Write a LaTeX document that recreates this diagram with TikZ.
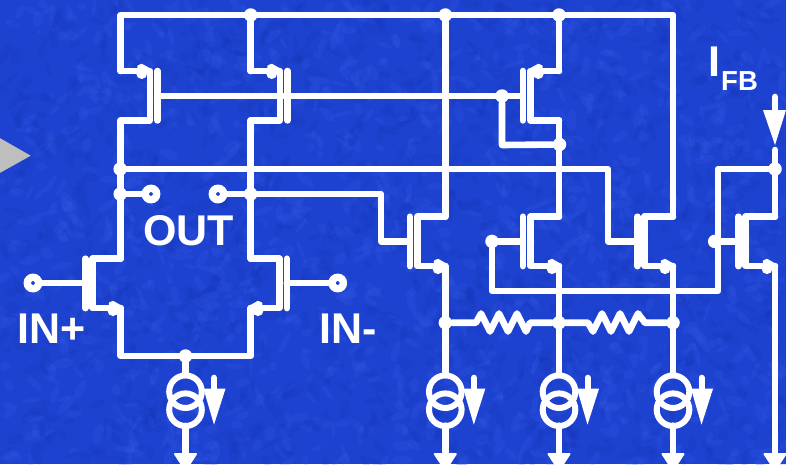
\documentclass[tikz,border=0pt]{standalone}
\usepackage{fontspec}
\setmainfont{Liberation Sans}
\definecolor{bluebg}{RGB}{30,66,208}
\definecolor{bluehi}{RGB}{58,100,236}
\definecolor{bluelo}{RGB}{18,50,176}
\definecolor{greytri}{RGB}{190,190,190}
\tikzset{
  wire/.style={draw=white,line width=6.6pt,line join=round,line cap=round},
  ringline/.style={draw=white,line width=6pt},
  dotnode/.style={circle,fill=white,inner sep=0pt,minimum size=13.5pt},
  termnode/.style={circle,fill=bluebg,draw=white,line width=7.4pt,inner sep=0pt,minimum size=11.4pt},
  biglabel/.style={text=white,font=\fontsize{43pt}{43pt}\selectfont\bfseries,inner sep=0pt,anchor=base west},
  sublabel/.style={text=white,font=\fontsize{27.5pt}{27.5pt}\selectfont\bfseries,inner sep=0pt,anchor=base west},
  fet/.pic={
    \draw[wire] (#1,-24.7) -- (0,-24.7) -- (0,24.7) -- (#1,24.7);
    \draw[wire] (-7.5,-24.7) -- (-7.5,24.7);
  },
  srcmark/.pic={
    \fill[white] (0,2.5) circle[radius=5.5pt];
    \fill[white,draw=white,line width=1.5pt,line join=round] (-3.5,-5) -- (0,-6.5) -- (8,-2) -- (8,1) -- (-3.5,1) -- cycle;
  },
  csrc/.pic={
    \draw[ringline] (0,-9) circle[radius=16.3pt];
    \draw[ringline] (0,9) circle[radius=16.3pt];
    \draw[white,line width=6pt,line cap=round] (28.5,-23) -- (28.5,-8);
    \fill[white] (18,-12) -- (40,-12) -- (28.5,24) -- cycle;
  },
  gndmark/.pic={
    \fill[white,draw=white,line width=2pt,line join=round] (-10.5,0) -- (10.5,0) -- (0,16) -- cycle;
  }
}
\begin{document}
\begin{tikzpicture}[x=1pt,y=-1pt]
\useasboundingbox (0,0) rectangle (786,464);
\clip (0,0) rectangle (786,464);
% textured blue ground
\fill[bluebg] (0,0) rectangle (786,464);
\pgfmathsetseed{7}
\foreach \n in {1,...,2200}{
  \pgfmathsetmacro{\px}{rnd*786}
  \pgfmathsetmacro{\py}{rnd*464}
  \pgfmathsetmacro{\pr}{4+rnd*8}
  \pgfmathsetmacro{\ps}{2+rnd*3}
  \pgfmathsetmacro{\pa}{rnd*180}
  \pgfmathparse{rnd>0.5?"bluehi":"bluelo"}
  \edef\pc{\pgfmathresult}
  \fill[\pc,opacity=.16,rotate around={\pa:(\px,\py)}] (\px,\py) ellipse[x radius=\pr pt,y radius=\ps pt];
}
% grey triangle
\fill[greytri] (-2,137) -- (30.7,155.7) -- (-2,174) -- cycle;
% grid of columns and rows
\coordinate (xa) at (120.7,0);
\coordinate (xb) at (250.7,0);
\coordinate (xc) at (445.3,0);
\coordinate (xd) at (559,0);
\coordinate (xe) at (673,0);
\coordinate (xf) at (775,0);
\coordinate (ytop) at (0,15);
\coordinate (ybus) at (0,169);
\coordinate (yout) at (0,194);
\coordinate (ytail) at (0,356);
\coordinate (yres) at (0,322.7);
\coordinate (yfb) at (0,291);
\coordinate (ygnd) at (0,454);
% transistors
\coordinate (m1) at (150,95.7);
\coordinate (m2) at (280,95.7);
\coordinate (m3) at (530.3,95.7);
\coordinate (m4) at (92.7,283.4);
\coordinate (m5) at (279.3,283.4);
\coordinate (m6) at (417.3,241.4);
\coordinate (m7) at (530.3,241.4);
\coordinate (m8) at (644.7,241.4);
\coordinate (m9) at (745.7,241.4);
\pic[xscale=-1] at (m1) {fet=29.3};
\pic[xscale=-1] at (m2) {fet=29.3};
\pic at (m3) {fet=28.7};
\pic at (m4) {fet=28};
\pic[xscale=-1] at (m5) {fet=28.6};
\pic at (m6) {fet=28};
\pic at (m7) {fet=28.7};
\pic at (m8) {fet=28.3};
\pic at (m9) {fet=29.3};
\pic at (141.7,71) {srcmark};
\pic at (271.7,71) {srcmark};
\pic[xscale=-1] at (538.3,71) {srcmark};
\pic at (113,308.1) {srcmark};
\pic[xscale=-1] at (258,308.1) {srcmark};
\pic at (438,266.1) {srcmark};
\pic at (552,266.1) {srcmark};
\pic at (665,266.1) {srcmark};
\pic at (767,266.1) {srcmark};
% dots and terminals
\node[dotnode] (d1) at (xb|-ytop) {};
\node[dotnode] (d2) at (xc|-ytop) {};
\node[dotnode] (d3) at (xd|-ytop) {};
\node[dotnode] (d4) at (120.2,169) {};
\node[dotnode] (d5) at (120.2,194) {};
\node[dotnode] (d6) at (xb|-yout) {};
\node[dotnode] (d7) at (502,96) {};
\node[dotnode] (d8) at (559.5,144.5) {};
\node[dotnode] (d9) at (492,241.4) {};
\node[dotnode] (d10) at (714.7,241.4) {};
\node[dotnode] (d11) at (xf|-ybus) {};
\node[dotnode] (d12) at (xc|-yres) {};
\node[dotnode] (d13) at (xd|-yres) {};
\node[dotnode] (d14) at (xe|-yres) {};
\node[dotnode] (d15) at (185.5,356) {};
\node[termnode] (t1) at (151,194) {};
\node[termnode] (t2) at (218,194) {};
\node[termnode] (t3) at (33,283) {};
\node[termnode] (t4) at (337.7,283) {};
% current sources and grounds
\coordinate (c1) at (185.5,400.7);
\coordinate (c2) at (xc|-c1);
\coordinate (c3) at (xd|-c1);
\coordinate (c4) at (xe|-c1);
\pic at (c1) {csrc};
\pic at (c2) {csrc};
\pic at (c3) {csrc};
\pic at (c4) {csrc};
\pic at (185.5,454) {gndmark};
\pic at (xc|-ygnd) {gndmark};
\pic at (xd|-ygnd) {gndmark};
\pic at (xe|-ygnd) {gndmark};
\pic at (xf|-ygnd) {gndmark};
% rails
\draw[wire] (m1)++(-29.3,-24.7) -- (xa|-ytop) -- (xe|-ytop) -- (673,216.7) -- (644.7,216.7);
\draw[wire] (d1) -- (250.7,71);
\draw[wire] (d2) -- (445.3,216.7);
\draw[wire] (d3) -- (559,71);
\draw[wire] (559,120.4) -- (559,216.7);
\draw[wire] (120.7,120.4) -- (120.7,258.7);
\draw[wire] (250.7,120.4) -- (250.7,258.7);
\draw[wire] (120.7,308.1) -- (xa|-ytail) -- (xb|-ytail) -- (250.7,308.1);
\draw[wire] (d15) -- (185.5,375);
\draw[wire] (185.5,426) -- (185.5,454);
% gate lines
\draw[wire] (287.5,96) -- (d7) -- (522.8,96);
\draw[wire] (d7) -- (502,145) -- (d8);
\draw[wire] (157.5,96) -- (d7);
\draw[wire] (t3) -- (85.2,283);
\draw[wire] (t4) -- (286.8,283);
% signal bus
\draw[wire] (d4) -- (608,169) -- (608,241.4) -- (637.2,241.4);
\draw[wire] (d5) -- (t1);
\draw[wire] (t2) -- (d6) -- (381,194) -- (381,241.4) -- (409.8,241.4);
\draw[wire] (522.8,241.4) -- (d9) -- (492,291) -- (718,291) -- (718,169) -- (d11);
\draw[wire] (d10) -- (738.2,241.4);
% output stages
\draw[wire] (445.3,266.1) -- (445.3,375);
\draw[wire] (559,266.1) -- (559,375);
\draw[wire] (673,266.1) -- (673,375);
\draw[wire] (xc|-c1) ++(0,25) -- (xc|-ygnd);
\draw[wire] (xd|-c1) ++(0,25) -- (xd|-ygnd);
\draw[wire] (xe|-c1) ++(0,25) -- (xe|-ygnd);
\draw[wire] (775,150) -- (775,216.7);
\draw[wire] (775,266.1) -- (xf|-ygnd);
% resistors
\draw[wire] (d12) -- (476,322.7) -- (481,313.5) -- (490,331.5) -- (499,313.5) -- (508,331.5) -- (517,313.5) -- (526,331.5) -- (530,322.7) -- (d13);
\draw[wire] (d13) -- (588,322.7) -- (593,331.5) -- (602,313.5) -- (611,331.5) -- (620,313.5) -- (629,331.5) -- (638,313.5) -- (645,322.7) -- (d14);
% feedback current arrow
\draw[wire] (775,97) -- (775,115);
\fill[white] (763,110) -- (786,110) -- (775,145) -- cycle;
% labels
\node[biglabel] (lout) at (143,245) {OUT};
\node[biglabel] (lin1) at (17,343.5) {IN+};
\node[biglabel] (lin2) at (319,343.5) {IN-};
\node[biglabel] (lif) at (708,76) {I};
\node[sublabel] (lfb) at (721,90) {FB};
\end{tikzpicture}
\end{document}
